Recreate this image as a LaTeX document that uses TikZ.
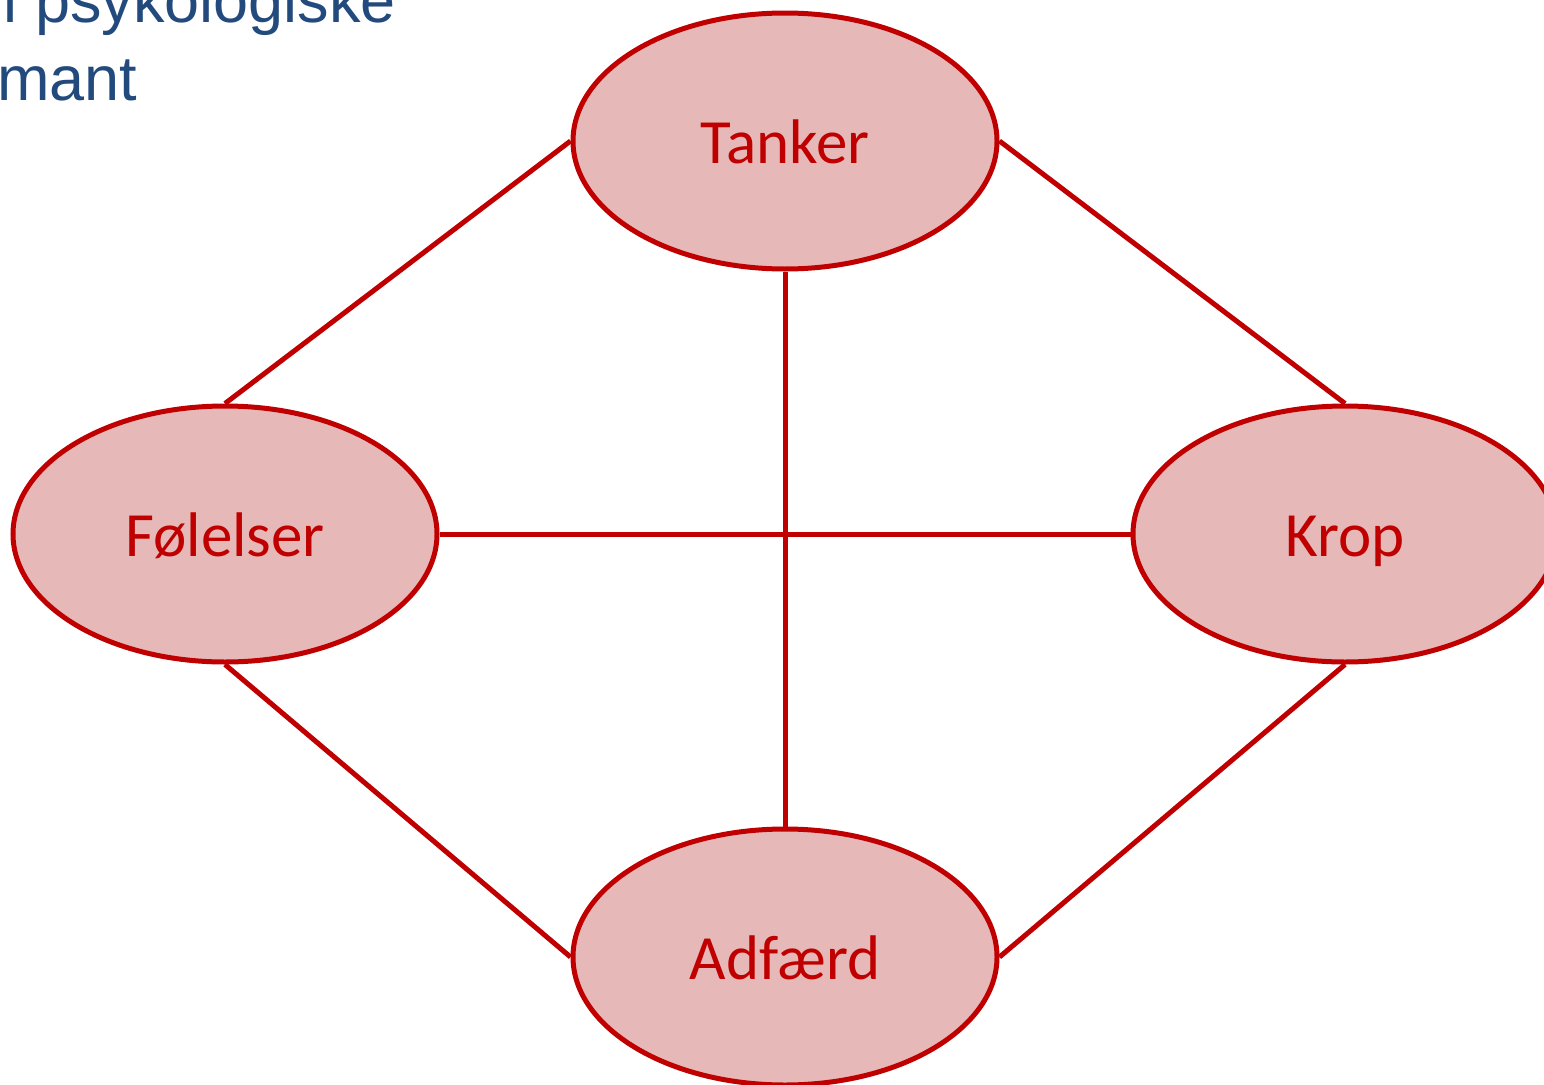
\documentclass[tikz,border=0pt]{standalone}
\usepackage{fontspec}
\setmainfont{Carlito}
\newfontfamily\arialfont{Liberation Sans}
\usetikzlibrary{shapes.geometric}
\definecolor{edgered}{HTML}{C00000}
\definecolor{pinkfill}{HTML}{E6B8B7}
\definecolor{titleblue}{HTML}{234A7D}
\tikzset{
  topic/.style={ellipse, draw=edgered, fill=pinkfill, line width=5pt,
    minimum width=424pt, minimum height=256pt, inner sep=0pt,
    text=edgered, font=\fontsize{63}{63}\selectfont,
    text height=45pt, text depth=0pt},
  link/.style={draw=edgered, line width=5pt},
  titletext/.style={text=titleblue, font=\arialfont\fontsize{63}{63}\selectfont, inner sep=0pt}
}
\begin{document}
\begin{tikzpicture}[x=1pt,y=-1pt]
\useasboundingbox (0,0) rectangle (1544,1084);
\node[titletext, anchor=base east] (t1) at (396,23) {l psykologiske};
\node[titletext, anchor=base west] (t2) at (-3,100) {mant};
\node[topic] (tanker) at (785,141) {Tanker};
\node[topic] (folelser) at (225,534) {Følelser};
\node[topic] (krop) at (1345,534) {Krop};
\node[topic] (adfaerd) at (785,957) {Adfærd};
\draw[link] (tanker.west) -- (folelser.north);
\draw[link] (tanker.east) -- (krop.north);
\draw[link] (tanker.south) -- (adfaerd.north);
\draw[link] (folelser.east) -- (krop.west);
\draw[link] (folelser.south) -- (adfaerd.west);
\draw[link] (krop.south) -- (adfaerd.east);
\end{tikzpicture}
\end{document}
